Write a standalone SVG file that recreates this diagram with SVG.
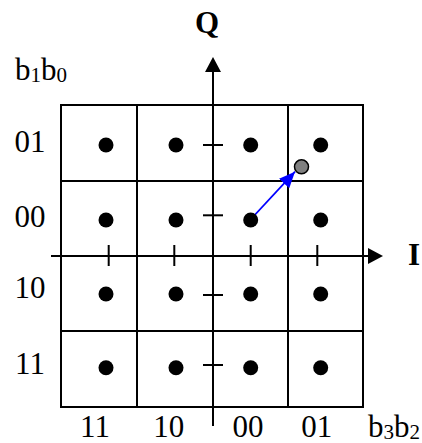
<svg xmlns="http://www.w3.org/2000/svg" width="422" height="443" viewBox="0 0 422 443">
<style>
.ln{stroke:#000;stroke-width:2;fill:none}
.dot{fill:#000}
text{font-family:'Liberation Serif','Times New Roman','DejaVu Serif',serif;font-size:31px;fill:#000}
.b{font-weight:bold}
</style>
<defs>
<marker id="blueHead" markerWidth="16" markerHeight="14" refX="16" refY="7" orient="auto" markerUnits="userSpaceOnUse">
<path d="M0,0 L16,7 L0,14 Z" fill="#0000FF"/>
</marker>
</defs>
<rect width="422" height="443" fill="#fff"/>
<g id="grid">
<rect class="ln" x="61" y="105" width="302" height="302"/>
<line class="ln" x1="137" y1="105" x2="137" y2="407"/>
<line class="ln" x1="288" y1="105" x2="288" y2="407"/>
<line class="ln" x1="61" y1="181" x2="363" y2="181"/>
<line class="ln" x1="61" y1="331" x2="363" y2="331"/>
</g>
<g id="connectors">
<line class="ln" x1="213" y1="426" x2="213" y2="70"/>
<polygon points="213,57 205,72 221,72" fill="#000"/>
<line class="ln" x1="51" y1="256" x2="370" y2="256"/>
<polygon points="383,256 368,248 368,264" fill="#000"/>
<g id="ticks" class="ln">
<line x1="108.7" y1="245" x2="108.7" y2="266"/>
<line x1="174.3" y1="245" x2="174.3" y2="266"/>
<line x1="250.7" y1="245" x2="250.7" y2="266"/>
<line x1="317.3" y1="245" x2="317.3" y2="266"/>
<line x1="203" y1="145" x2="223" y2="145"/>
<line x1="203" y1="215.3" x2="223" y2="215.3"/>
<line x1="203" y1="295" x2="223" y2="295"/>
<line x1="203" y1="365" x2="223" y2="365"/>
</g>
<line x1="251.5" y1="218.5" x2="295" y2="171.7" stroke="#0000FF" stroke-width="1.8" marker-end="url(#blueHead)"/>
</g>
<g id="points">
<circle class="dot" cx="106" cy="145" r="7.5"/>
<circle class="dot" cx="176" cy="145" r="7.5"/>
<circle class="dot" cx="250.7" cy="145" r="7.5"/>
<circle class="dot" cx="320.7" cy="145" r="7.5"/>
<circle class="dot" cx="106" cy="220" r="7.5"/>
<circle class="dot" cx="176" cy="220" r="7.5"/>
<circle class="dot" cx="250.7" cy="220" r="7.5"/>
<circle class="dot" cx="320.7" cy="220" r="7.5"/>
<circle class="dot" cx="106" cy="294" r="7.5"/>
<circle class="dot" cx="176" cy="294" r="7.5"/>
<circle class="dot" cx="250.7" cy="294" r="7.5"/>
<circle class="dot" cx="320.7" cy="294" r="7.5"/>
<circle class="dot" cx="106" cy="367.7" r="7.5"/>
<circle class="dot" cx="176" cy="367.7" r="7.5"/>
<circle class="dot" cx="250.7" cy="367.7" r="7.5"/>
<circle class="dot" cx="320.7" cy="367.7" r="7.5"/>
</g>
<g id="received">
<circle cx="301.5" cy="166.8" r="7" fill="#808080" stroke="#000" stroke-width="1.5"/>
</g>
<g id="labels">
<text class="b" x="207" y="33" text-anchor="middle">Q</text>
<text class="b" x="408" y="265">I</text>
<text x="15" y="80">b<tspan font-size="21" dy="2">1</tspan><tspan dy="-2">b</tspan><tspan font-size="21" dy="2">0</tspan></text>
<text x="30" y="152" text-anchor="middle">01</text>
<text x="30" y="227" text-anchor="middle">00</text>
<text x="30" y="298" text-anchor="middle">10</text>
<text x="30" y="374" text-anchor="middle">11</text>
<text x="95" y="437" text-anchor="middle">11</text>
<text x="168.7" y="437" text-anchor="middle">10</text>
<text x="248" y="437" text-anchor="middle">00</text>
<text x="316.7" y="437" text-anchor="middle">01</text>
<text x="368" y="437">b<tspan font-size="21" dy="2">3</tspan><tspan dy="-2">b</tspan><tspan font-size="21" dy="2">2</tspan></text>
</g>
</svg>
